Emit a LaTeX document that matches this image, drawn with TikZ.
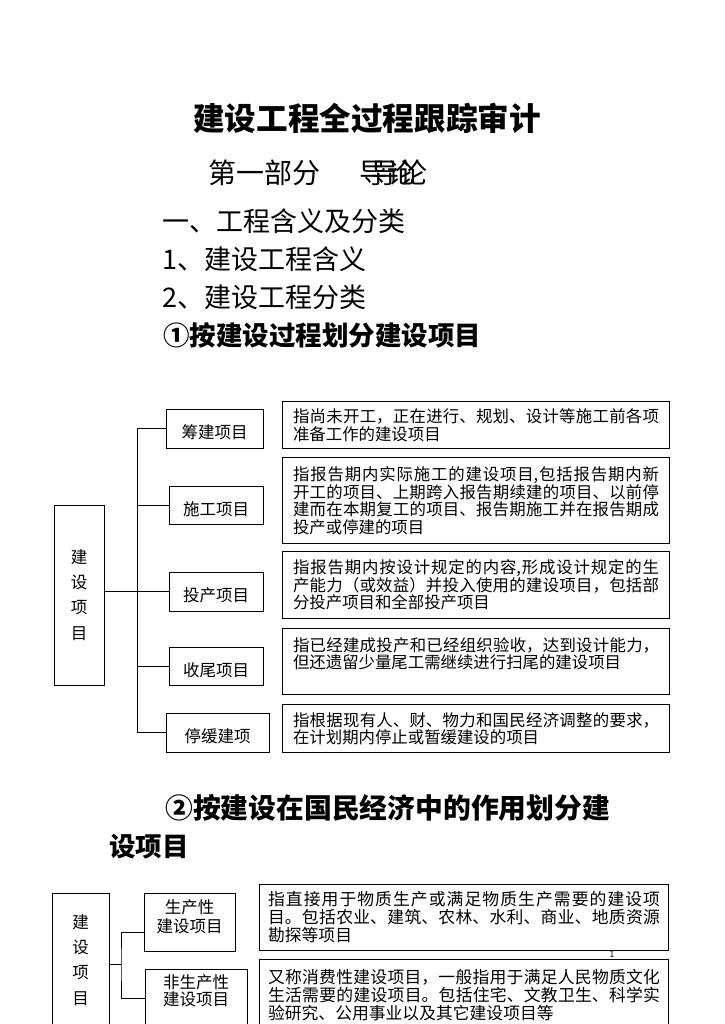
\documentclass[tikz,border=0pt]{standalone}
\usepackage{fontspec}
\usepackage{tikz}
\setmainfont{Noto Sans CJK SC}
\XeTeXlinebreaklocale "zh"
\XeTeXlinebreakskip=0pt plus 3pt

\begin{document}
\begin{tikzpicture}[x=1pt, y=-1pt, semithick,
        head/.style={anchor=west, inner sep=0pt, font=\fontsize{27}{30}\selectfont},
        kind/.style={draw, line width=0.7pt, inner sep=0pt, text height=22pt, text depth=2pt,
            font=\fontsize{16.5}{19}\selectfont},
        kindtwo/.style={draw, line width=0.7pt, inner sep=0pt, align=center,
            font=\fontsize{16.5}{19}\selectfont},
        root/.style={draw, line width=0.7pt, inner sep=0pt, align=center,
            font=\fontsize{16.5}{25.3}\selectfont},
        note/.style={draw, line width=1.1pt, anchor=north west, inner xsep=10.5pt, inner ysep=0pt,
            text width=366pt, align=justify, font=\fontsize{16.4}{17.5}\selectfont},
        link/.style={line width=0.7pt}]
        \useasboundingbox (0, 0) rectangle (724, 1024);

        % headings
        \node[inner sep=0pt, font=\fontsize{31.6}{34}\selectfont\bfseries] (title) at (367, 118) {建设工程全过程跟踪审计};
        \node[head, font=\fontsize{28}{30}\selectfont] (part) at (208, 173) {第一部分};
        \node[head, font=\fontsize{28}{30}\selectfont] (intro) at (359, 173) {导论};
        \node[head, font=\fontsize{28}{30}\selectfont] (introb) at (371, 173) {导论};
        \node[head] (sec) at (162, 221) {一、工程含义及分类};
        \node[head] (subA) at (162, 259) {1、建设工程含义};
        \node[head] (subB) at (162, 297) {2、建设工程分类};
        \node[head, font=\fontsize{26.5}{30}\selectfont\bfseries] (byA) at (163, 335) {①按建设过程划分建设项目};

        % by construction process
        \node[root, minimum width=50, minimum height=180] (r1) at (79, 595) {建\\设\\项\\目};
        \node[kind, minimum width=97, minimum height=39] (cj) at (214.5, 428.5) {筹建项目};
        \node[kind, minimum width=94, minimum height=38] (sg) at (216, 505) {施工项目};
        \node[kind, minimum width=94, minimum height=39] (tc) at (216, 591.5) {投产项目};
        \node[kind, minimum width=94, minimum height=38] (sw) at (216, 666) {收尾项目};
        \node[kind, minimum width=103, minimum height=39] (th) at (217.5, 732.5) {停缓建项};
        \coordinate (jA) at (137, 590);
        \path[draw, link] (cj.west) -| (jA |- th.west) -- (th.west);
        \foreach \n in {sg, tc, sw}
            \path[draw, link] (jA |- \n.west) -- (\n.west);
        \path[draw, link] (r1.east |- tc.west) -- (jA |- tc.west);

        \node[note, minimum height=47] (d1) at (282, 401)
            {指尚未开工，正在进行、规划、设计等施工前各项\linebreak 准备工作的建设项目};
        \node[note, minimum height=86] (d2) at (282, 457)
            {指报告期内实际施工的建设项目,包括报告期内新\linebreak 开工的项目、上期跨入报告期续建的项目、以前停\linebreak 建而在本期复工的项目、报告期施工并在报告期成\linebreak 投产或停建的项目};
        \node[note, minimum height=67] (d3) at (282, 551)
            {指报告期内按设计规定的内容,形成设计规定的生\linebreak 产能力（或效益）并投入使用的建设项目，包括部\linebreak 分投产项目和全部投产项目};
        \node[note, minimum height=66] (d4) at (282, 628)
            {指已经建成投产和已经组织验收，达到设计能力，\linebreak 但还遗留少量尾工需继续进行扫尾的建设项目\par\mbox{}};
        \node[note, minimum height=48] (d5) at (282, 704)
            {指根据现有人、财、物力和国民经济调整的要求，\linebreak 在计划期内停止或暂缓建设的项目};

        % by role in the economy
        \node[head, font=\fontsize{27.8}{30}\selectfont\bfseries] (byB) at (165, 808) {②按建设在国民经济中的作用划分建};
        \node[head, font=\fontsize{26.5}{30}\selectfont\bfseries] (byBb) at (109, 847) {设项目};

        \node[root, minimum width=57, minimum height=134] (r2) at (80.5, 960) {建\\设\\项\\目};
        \node[kindtwo, text depth=11pt, minimum width=91, minimum height=58] (sc) at (189.5, 922) {生产性\\建设项目};
        \node[kindtwo, text depth=15pt, font=\fontsize{16.5}{17}\selectfont,
            minimum width=102, minimum height=58] (nsc) at (196, 998) {非生产性\\建设项目};
        \coordinate (jB) at (121, 964);
        \path[draw, link] ([yshift=-10pt]sc.west) -| (jB) |- (nsc.west);
        \path[draw, link] (r2.east |- jB) -- (jB);

        \node[note, inner xsep=8.5pt, text width=392pt, font=\fontsize{16.8}{18}\selectfont,
            minimum height=66] (e1) at (259, 884)
            {指直接用于物质生产或满足物质生产需要的建设项\linebreak 目。包括农业、建筑、农林、水利、商业、地质资源\linebreak 勘探等项目};
        \node[note, inner xsep=8.5pt, text width=392pt, font=\fontsize{16.8}{18}\selectfont,
            minimum height=71] (e2) at (259, 959)
            {又称消费性建设项目，一般指用于满足人民物质文化\linebreak 生活需要的建设项目。包括住宅、文教卫生、科学实\linebreak 验研究、公用事业以及其它建设项目等};
        \node[inner sep=0pt, font=\fontsize{8.5}{9}\selectfont] (pg) at (612, 954) {1};
    \end{tikzpicture}
\end{document}
